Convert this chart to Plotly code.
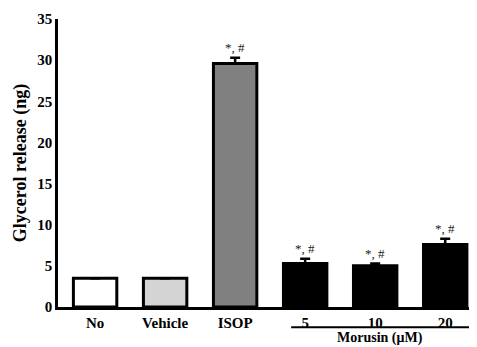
import plotly.graph_objects as go

categories = ["No", "Vehicle", "ISOP", "5", "10", "20"]
values = [3.5, 3.5, 29.6, 5.3, 5.0, 7.6]
errors = [0.0, 0.0, 0.7, 0.55, 0.3, 0.7]
colors = ["#ffffff", "#d4d4d4", "#808080", "#000000", "#000000", "#000000"]
sig_labels = ["", "", "*, #", "*, #", "*, #", "*, #"]
group_label = "Morusin (μM)"

x_idx = list(range(len(categories)))
font_family = "Liberation Serif, Times New Roman, serif"

fig = go.Figure()
fig.add_trace(go.Bar(
    x=x_idx, y=values, width=0.62,
    marker=dict(color=colors, line=dict(color="black", width=3)),
    error_y=dict(type="data", array=errors, arrayminus=[0]*len(errors),
                 color="black", thickness=2.5, width=5, visible=True),
    showlegend=False,
))

for i, (v, e, s) in enumerate(zip(values, errors, sig_labels)):
    if s:
        fig.add_annotation(x=i, y=v + e, text=s, showarrow=False, yshift=10,
                           font=dict(family=font_family, size=13, color="#1a1a1a"))

fig.add_shape(type="line", xref="x", yref="paper", x0=2.8, x1=5.34, y0=-0.07, y1=-0.07,
              line=dict(color="black", width=2))
fig.add_annotation(xref="x", yref="paper", x=4.07, y=-0.108, text="<b>" + group_label + "</b>",
                   showarrow=False, yanchor="middle", font=dict(family=font_family, size=14, color="black"))

fig.update_layout(
    width=469, height=339,
    margin=dict(l=50, r=8, t=11, b=40),
    plot_bgcolor="white", paper_bgcolor="white",
    font=dict(family=font_family, color="black"),
)
fig.update_xaxes(
    range=[-0.53, 5.34], tickvals=x_idx, automargin=False,
    ticktext=["<b>" + c + "</b>" for c in categories],
    tickfont=dict(family=font_family, size=15, color="black"),
    showline=True, linecolor="black", linewidth=2.5, ticks="", showgrid=False, zeroline=False,
)
fig.update_yaxes(
    range=[0, 35], tickvals=[0, 5, 10, 15, 20, 25, 30, 35], automargin=False,
    ticktext=["<b>%d</b>" % t for t in [0, 5, 10, 15, 20, 25, 30, 35]],
    tickfont=dict(family=font_family, size=15, color="black"),
    showline=True, linecolor="black", linewidth=2.5, ticks="", showgrid=False, zeroline=False,
    title=dict(text="<b>Glycerol release (ng)</b>", font=dict(family=font_family, size=18, color="black"), standoff=6),
)

fig.write_html("out.html")
